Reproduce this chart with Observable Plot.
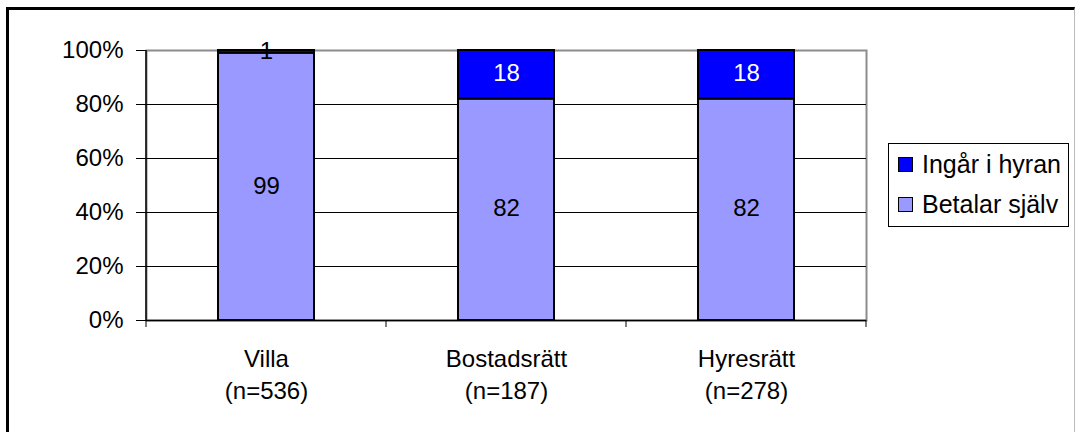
<!DOCTYPE html>
<html>
<head>
<meta charset="utf-8">
<script src="https://cdn.jsdelivr.net/npm/d3@7"></script>
<script src="https://cdn.jsdelivr.net/npm/@observablehq/plot@0.6"></script>
<style>
  html, body { margin: 0; padding: 0; background: #fff; }
  #wrap { position: relative; width: 1075px; height: 432px; overflow: hidden; background: #fff;
          font-family: "Liberation Sans", Arial, sans-serif; }
  #frame { position: absolute; left: 6px; top: 7px; width: 1065px; height: 440px;
           border-top: 3px solid #000; border-left: 3px solid #000; border-right: 1px solid #bbb; }
  #chart { position: absolute; left: 0; top: 0; }
  #legend { position: absolute; left: 888px; top: 143px; width: 179px; height: 82px;
            border: 1px solid #000; background: #fff; font-size: 25px; color: #000; }
  .item { position: absolute; left: 9px; display: flex; align-items: center; white-space: nowrap; }
  .sw { width: 13px; height: 13px; border: 1px solid #000; margin-right: 9px; }
</style>
</head>
<body>
<div id="wrap">
  <div id="frame"></div>
  <div id="chart"></div>
  <div id="legend"></div>
</div>
<script>
// ---- data ----
const categories = ["Villa", "Bostadsrätt", "Hyresrätt"];
const nLabels = ["(n=536)", "(n=187)", "(n=278)"];
const series = ["Betalar själv", "Ingår i hyran"];
const betalarSjalv = [99, 82, 82];
const ingarIHyran = [1, 18, 18];
const yTicks = [0, 20, 40, 60, 80, 100];
const gridValues = [20, 40, 60, 80];
const legendOrder = ["Ingår i hyran", "Betalar själv"];

// ---- styles ----
const seriesColor = { "Betalar själv": "#9999ff", "Ingår i hyran": "#0000ff" };

const rows = [];
categories.forEach((c, i) => rows.push({ cat: c, series: series[0], value: betalarSjalv[i] }));
categories.forEach((c, i) => rows.push({ cat: c, series: series[1], value: ingarIHyran[i] }));

const nOf = Object.fromEntries(categories.map((c, i) => [c, nLabels[i]]));
const labelColor = d => (d.series === "Ingår i hyran" && d.value >= 5) ? "#ffffff" : "#000000";

const chart = Plot.plot({
  width: 1075,
  height: 432,
  marginLeft: 146,
  marginRight: 209,
  marginTop: 50,
  marginBottom: 112,
  style: { fontFamily: "Liberation Sans, Arial, sans-serif", fontSize: "24px", color: "#000", background: "transparent" },
  x: { domain: categories, paddingInner: 0.6, paddingOuter: 0.3, axis: null },
  y: { domain: [0, 100], axis: null },
  color: { type: "identity" },
  marks: [
    Plot.frame({ stroke: "#8c8c8c", strokeWidth: 2 }),
    Plot.ruleY(gridValues, { stroke: "#000", strokeWidth: 1 }),
    Plot.barY(rows, {
      x: "cat", y: "value",
      fill: d => seriesColor[d.series],
      stroke: "#000", strokeWidth: 2
    }),
    Plot.text(rows, Plot.stackY({
      x: "cat", y: "value",
      text: d => String(d.value),
      fill: labelColor,
      fontSize: 24,
      dy: -1
    })),
    Plot.ruleY([0], { stroke: "#000", strokeWidth: 1.5 }),
    Plot.axisY({
      ticks: yTicks, tickFormat: d => d + "%", tickSize: 10, tickPadding: 13,
      label: null, fontSize: 24, stroke: "#000"
    }),
    Plot.axisX({
      tickSize: 0, tickPadding: 24, label: null, fontSize: 24, lineHeight: 1.33,
      tickFormat: d => d + "\n" + nOf[d]
    })
  ]
});
document.getElementById("chart").appendChild(chart);

// left axis line and category boundary ticks from the library's scales
const sx = chart.scale("x");
const sy = chart.scale("y");
const y0 = sy.apply(0), y100 = sy.apply(100);
const gap = (sx.step - sx.bandwidth) / 2;
const bounds = categories.map(c => sx.apply(c) - gap);
bounds.push(sx.apply(categories[categories.length - 1]) + sx.bandwidth + gap);
const svg = d3.select(chart);
svg.append("line")
  .attr("x1", bounds[0]).attr("x2", bounds[0])
  .attr("y1", y100).attr("y2", y0)
  .attr("stroke", "#000").attr("stroke-width", 1.5);
svg.append("g").selectAll("line").data(bounds).join("line")
  .attr("x1", d => d).attr("x2", d => d)
  .attr("y1", y0).attr("y2", y0 + 7)
  .attr("stroke", "#000").attr("stroke-width", 1);

// legend
const legend = document.getElementById("legend");
legendOrder.forEach((s, i) => {
  const it = document.createElement("div");
  it.className = "item";
  it.style.top = (6 + i * 40) + "px";
  const sw = document.createElement("div");
  sw.className = "sw";
  sw.style.background = seriesColor[s];
  const tx = document.createElement("span");
  tx.textContent = s;
  it.appendChild(sw); it.appendChild(tx);
  legend.appendChild(it);
});
</script>
</body>
</html>
